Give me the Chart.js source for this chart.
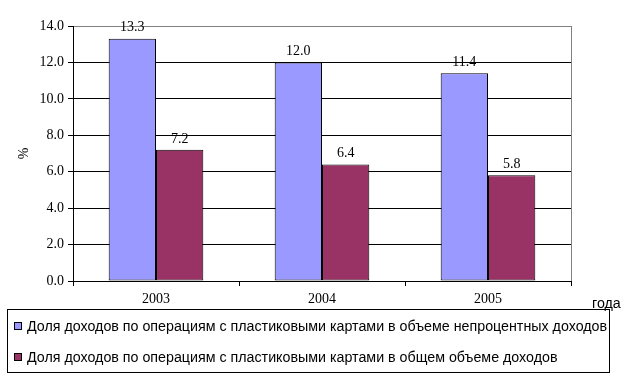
<!DOCTYPE html>
<html>
<head>
<meta charset="utf-8">
<script src="https://cdn.jsdelivr.net/npm/chart.js@4"></script>
<style>
  body { margin: 0; background: #fff; }
  #wrap { position: relative; width: 641px; height: 379px; }
  #legend {
    position: absolute; left: 7px; top: 309px; width: 601px; height: 62px;
    border: 1px solid #000; font-family: 'Liberation Sans', Arial, sans-serif; font-size: 14.25px;
  }
  .item { position: absolute; left: 6px; white-space: nowrap; line-height: 16px; }
  .item i { display: inline-block; width: 6px; height: 6px; border: 1px solid #000; margin-right: 5px; vertical-align: 1px; }
  #xtitle { position: absolute; left: 592px; top: 295px; font-family: 'Liberation Sans', Arial, sans-serif; font-size: 14.25px; }
</style>
</head>
<body>
<div id="wrap">
  <canvas id="chart" width="641" height="379"></canvas>
  <div id="xtitle">года</div>
  <div id="legend"></div>
</div>
<script>
const years = ['2003', '2004', '2005'];
const seriesNames = [
    'Доля доходов по операциям с пластиковыми картами в объеме непроцентных доходов',
    'Доля доходов по операциям с пластиковыми картами в общем объеме доходов'
];
const nonInterestShare = [13.3, 12.0, 11.4];
const totalShare = [7.2, 6.4, 5.8];
const colors = ['#9999FF', '#993366'];

// легенда в рамке снизу
const legend = document.getElementById('legend');
seriesNames.forEach(function(name, i) {
    const div = document.createElement('div');
    div.className = 'item';
    div.style.top = (i === 0 ? 8 : 39) + 'px';
    div.innerHTML = '<i style="background:' + colors[i] + '"></i>' + name;
    legend.appendChild(div);
});

const serif = { family: "'Liberation Serif', 'Times New Roman', serif", size: 14 };

// подписи значений над столбцами и серая рамка справа
const extras = {
    id: 'extras',
    afterDatasetsDraw(chart) {
        const ctx = chart.ctx;
        const area = chart.chartArea;
        ctx.save();
        ctx.strokeStyle = '#808080';
        ctx.lineWidth = 1;
        ctx.beginPath();
        ctx.moveTo(Math.round(area.right) + 0.5, area.top);
        ctx.lineTo(Math.round(area.right) + 0.5, area.bottom);
        ctx.stroke();
        ctx.fillStyle = '#000';
        ctx.font = serif.size + 'px ' + serif.family;
        ctx.textAlign = 'center';
        ctx.textBaseline = 'bottom';
        chart.data.datasets.forEach(function(ds, di) {
            chart.getDatasetMeta(di).data.forEach(function(bar, i) {
                ctx.fillText(ds.data[i].toFixed(1), bar.x, bar.y - 4);
            });
        });
        ctx.restore();
    }
};

new Chart(document.getElementById('chart'), {
    type: 'bar',
    data: {
        labels: years,
        datasets: [
            { label: seriesNames[0], data: nonInterestShare, backgroundColor: colors[0] },
            { label: seriesNames[1], data: totalShare, backgroundColor: colors[1] }
        ]
    },
    options: {
        responsive: false,
        animation: false,
        devicePixelRatio: 1,
        layout: { padding: { top: 26, right: 70, left: 0, bottom: 0 } },
        datasets: {
            bar: {
                categoryPercentage: 0.57,
                barPercentage: 1,
                borderColor: '#000',
                borderWidth: 1,
                borderSkipped: false
            }
        },
        plugins: {
            legend: { display: false },
            tooltip: { enabled: false }
        },
        scales: {
            x: {
                grid: { offset: true, drawOnChartArea: false, color: '#000', tickLength: 5 },
                border: { color: '#000' },
                ticks: { color: '#000', font: serif, padding: 5 },
                afterFit: function(scale) { scale.height = 98; }
            },
            y: {
                min: 0,
                max: 14,
                ticks: {
                    stepSize: 2,
                    color: '#000',
                    font: serif,
                    padding: 4,
                    callback: function(v) { return v.toFixed(1); }
                },
                grid: {
                    color: function(c) { return c.tick && c.tick.value === 14 ? '#808080' : '#000'; },
                    tickColor: '#000',
                    tickLength: 5
                },
                border: { color: '#000' },
                title: { display: true, text: '%', color: '#000', font: serif, padding: { top: 16, bottom: 0 } },
                afterFit: function(scale) { scale.width = 73; }
            }
        }
    },
    plugins: [extras]
});
</script>
</body>
</html>
